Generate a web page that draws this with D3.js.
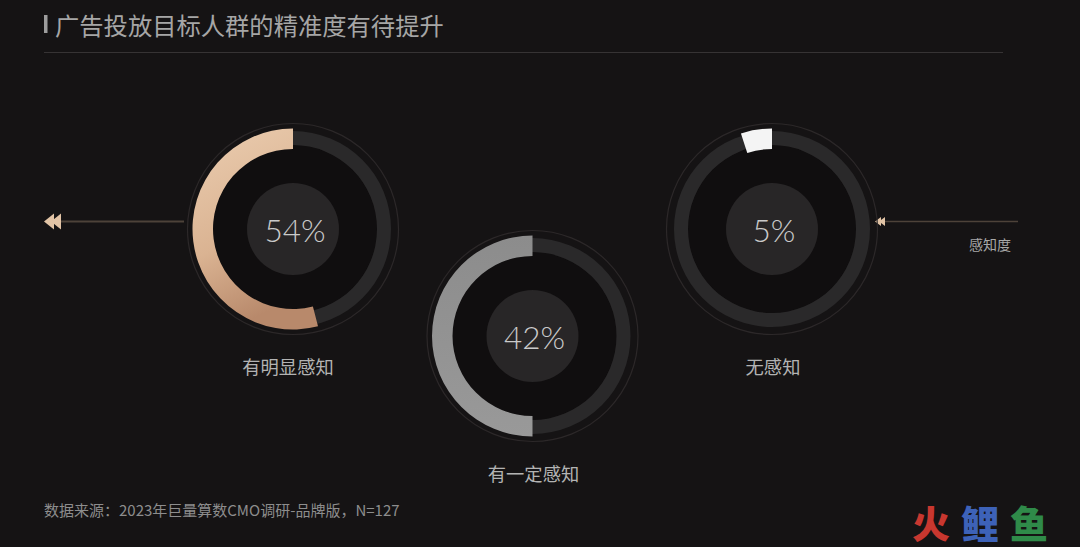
<!DOCTYPE html>
<html><head><meta charset="utf-8">
<script src="https://cdn.jsdelivr.net/npm/d3@7"></script>
<style>
html,body{margin:0;padding:0;background:#151314;}
svg{display:block;}
</style></head>
<body>
<svg id="c" width="1080" height="547"></svg>
<script>
const title = "广告投放目标人群的精准度有待提升";
const categories = ["有明显感知", "有一定感知", "无感知"];
const values = [54, 42, 5];            // printed percentages
const arcShares = [54, 50, 5];         // arc length as drawn in the picture (%)
const axisLabel = "感知度";
const source = "数据来源：2023年巨量算数CMO调研-品牌版，N=127";
const brand = ["火", "鲤", "鱼"];
const brandColors = ["#c8372f", "#3d62b8", "#2f8a49"];

const svg = d3.select("#c");
const W = 1080, H = 547;
svg.append("rect").attr("width", W).attr("height", H).attr("fill", "#151314");

const defs = svg.append("defs");
const g1 = defs.append("linearGradient").attr("id", "gold").attr("x1", 0).attr("y1", 0).attr("x2", 0.3).attr("y2", 1);
g1.append("stop").attr("offset", 0).attr("stop-color", "#ebcdb0");
g1.append("stop").attr("offset", 0.6).attr("stop-color", "#dab392");
g1.append("stop").attr("offset", 1).attr("stop-color", "#b8896b");
const g2 = defs.append("linearGradient").attr("id", "grey").attr("x1", 0).attr("y1", 0).attr("x2", 0).attr("y2", 1);
g2.append("stop").attr("offset", 0).attr("stop-color", "#8c8c8c");
g2.append("stop").attr("offset", 1).attr("stop-color", "#999999");
const fills = ["url(#gold)", "url(#grey)", "#f4f4f4"];

// title
svg.append("rect").attr("x", 44).attr("y", 15).attr("width", 3.5).attr("height", 18).attr("fill", "#9d9d9d");
svg.append("text").attr("x", 55).attr("y", 24).attr("dominant-baseline", "central")
  .attr("font-family", "'Noto Sans CJK SC', sans-serif").attr("font-size", 24.3)
  .attr("fill", "#a6a6a6").text(title);
svg.append("line").attr("x1", 44).attr("x2", 1003).attr("y1", 52.5).attr("y2", 52.5)
  .attr("stroke", "#363334").attr("stroke-width", 1);

// arrows
svg.append("line").attr("x1", 60).attr("x2", 184).attr("y1", 221.5).attr("y2", 221.5)
  .attr("stroke", "#4d4239").attr("stroke-width", 2);
[44, 51].forEach(x => {
  svg.append("path").attr("d", `M${x},221.5 L${x + 10},213.5 L${x + 10},229.5 Z`).attr("fill", "#e2c4a6");
});
svg.append("line").attr("x1", 884).attr("x2", 1018).attr("y1", 221.5).attr("y2", 221.5)
  .attr("stroke", "#4d4239").attr("stroke-width", 1.5);
[875, 879].forEach(x => {
  svg.append("path").attr("d", `M${x},221.5 L${x + 6},217 L${x + 6},226 Z`).attr("fill", "#e2c4a6");
});
svg.append("text").attr("x", 990).attr("y", 244).attr("text-anchor", "middle").attr("dominant-baseline", "central")
  .attr("font-family", "'Noto Sans CJK SC', sans-serif").attr("font-size", 14)
  .attr("fill", "#a8a8a8").text(axisLabel);

// rings
const xScale = d3.scalePoint().domain(categories).range([293, 772]);
const angle = d3.scaleLinear().domain([0, 100]).range([0, -2 * Math.PI]);
const trackArc = d3.arc().innerRadius(84).outerRadius(98).startAngle(0).endAngle(2 * Math.PI);
const valArc = d3.arc().innerRadius(80).outerRadius(100.5).startAngle(0);

categories.forEach((cat, i) => {
  const cx = xScale(cat);
  const cy = i === 1 ? 336 : 229;
  const g = svg.append("g").attr("transform", `translate(${cx},${cy})`);
  g.append("circle").attr("r", 105.5).attr("fill", "none").attr("stroke", "#2c2829").attr("stroke-width", 1.2);
  g.append("circle").attr("r", 84).attr("fill", "#100e0f");
  g.append("path").attr("d", trackArc()).attr("fill", "#2a292a");
  g.append("path").attr("d", valArc({ endAngle: angle(arcShares[i]) })).attr("fill", fills[i]);
  g.append("circle").attr("r", 46).attr("fill", "#282627");
  g.append("text").attr("x", 2).attr("y", 1).attr("text-anchor", "middle").attr("dominant-baseline", "central")
    .attr("font-family", "Lato, 'Noto Sans', sans-serif").attr("font-weight", 300).attr("font-size", 31.5)
    .attr("fill", "#cacaca").text(values[i] + "%");
  g.append("text").attr("x", i === 0 ? -5 : 1).attr("y", 137).attr("text-anchor", "middle").attr("dominant-baseline", "central")
    .attr("font-family", "'Noto Sans CJK SC', sans-serif").attr("font-size", 18.3)
    .attr("fill", "#b3b3b3").text(cat);
});

// source
svg.append("text").attr("x", 44).attr("y", 509).attr("dominant-baseline", "central")
  .attr("font-family", "'Noto Sans CJK SC', sans-serif").attr("font-size", 15)
  .attr("fill", "#8d8d8d").text(source);

// brand watermark
brand.forEach((ch, i) => {
  svg.append("text").attr("x", 912 + i * 49).attr("y", 521).attr("dominant-baseline", "central")
    .attr("font-family", "'Noto Sans CJK SC', sans-serif").attr("font-weight", 900).attr("font-size", 38)
    .attr("fill", brandColors[i]).text(ch);
});
</script>
</body></html>
